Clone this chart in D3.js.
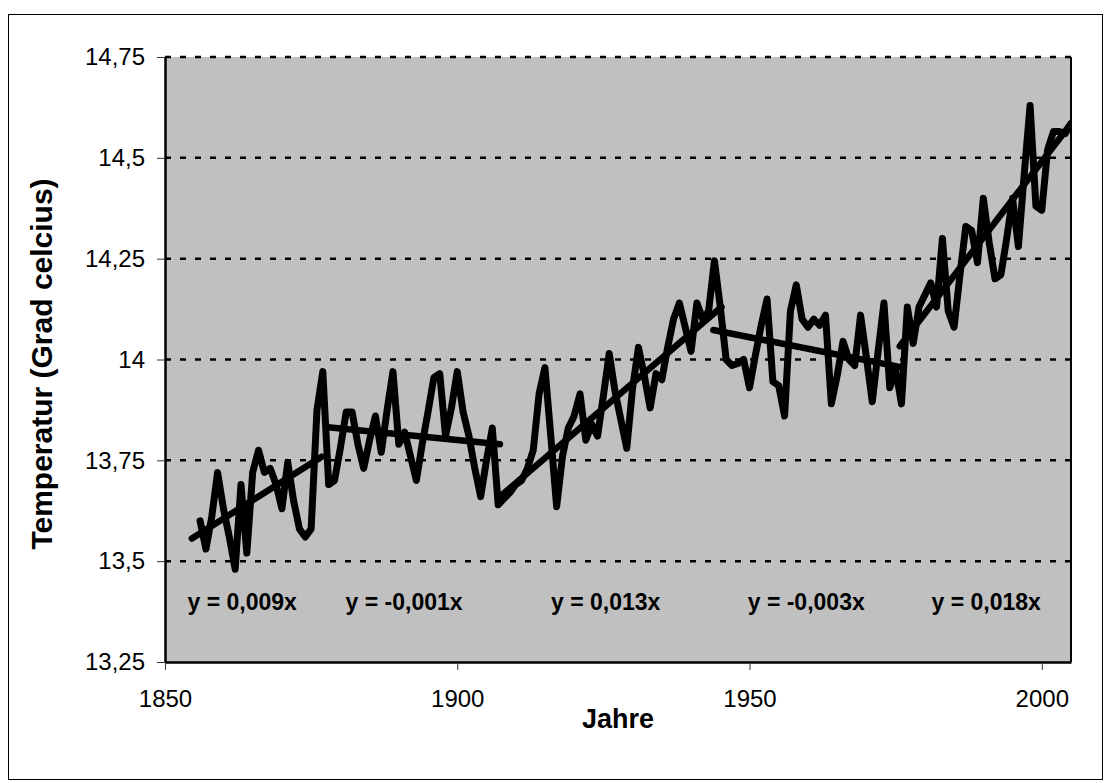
<!DOCTYPE html>
<html><head><meta charset="utf-8">
<script src="https://cdn.jsdelivr.net/npm/d3@7"></script>
<style>
body{margin:0;background:#fff}
svg{display:block}
text{font-family:"Liberation Sans",Arial,Helvetica,sans-serif;fill:#000}
</style></head>
<body><svg id="chart" width="1111" height="783"></svg>
<script>
// ---- data ----
const firstYear = 1856;
const temps = [
13.60,13.53,13.61,13.72,13.63,13.56,13.48,13.69,13.52,13.72,
13.775,13.72,13.73,13.69,13.63,13.745,13.65,13.58,13.56,13.58,
13.875,13.97,13.69,13.70,13.78,13.87,13.87,13.79,13.73,13.80,
13.86,13.77,13.875,13.97,13.79,13.82,13.76,13.70,13.79,13.87,
13.955,13.965,13.81,13.88,13.97,13.87,13.81,13.73,13.66,13.75,
13.83,13.64,13.655,13.67,13.69,13.70,13.73,13.775,13.915,13.98,
13.81,13.635,13.76,13.83,13.86,13.915,13.80,13.84,13.81,13.91,
14.015,13.92,13.85,13.78,13.93,14.03,13.96,13.88,13.965,13.95,
14.03,14.10,14.14,14.08,14.02,14.14,14.10,14.12,14.245,14.13,
14.00,13.985,13.99,14.00,13.93,14.01,14.085,14.15,13.945,13.935,
13.86,14.12,14.185,14.10,14.08,14.10,14.085,14.11,13.89,13.96,
14.045,14.00,13.985,14.11,14.005,13.895,14.02,14.14,13.93,13.975,
13.89,14.13,14.04,14.13,14.16,14.19,14.13,14.30,14.12,14.08,
14.21,14.33,14.32,14.24,14.40,14.29,14.20,14.21,14.30,14.40,
14.28,14.46,14.63,14.38,14.37,14.52,14.565,14.565,14.56,14.585
];
const years = d3.range(firstYear, firstYear + temps.length);

// linear trend segments
const trendStartYear = [1854.6, 1877.9, 1907.3, 1943.8, 1975.7];
const trendEndYear   = [1876.8, 1907.3, 1945.2, 1976.3, 2005];
const trendStartVal  = [13.556, 13.832, 13.66, 14.073, 14.033];
const trendEndVal    = [13.759, 13.79, 14.13, 13.98, 14.585];
const trendLabels    = ["y = 0,009x","y = -0,001x","y = 0,013x","y = -0,003x","y = 0,018x"];
const trendLabelYear = [1863.2, 1890.9, 1925.4, 1959.7, 1990.5];
const trendLabelVal  = 13.4;

const xTicks = [1850, 1900, 1950, 2000];
const xTickLabels = ["1850","1900","1950","2000"];
const yTicks = [13.25, 13.5, 13.75, 14, 14.25, 14.5, 14.75];
const yTickLabels = ["13,25","13,5","13,75","14","14,25","14,5","14,75"];
const xTitle = "Jahre";
const yTitle = "Temperatur (Grad celcius)";

// ---- layout ----
const L = 165, R = 1071, T = 57, B = 662;
const svg = d3.select("#chart");

svg.append("rect").attr("x",8.5).attr("y",14.5).attr("width",1094).attr("height",765)
  .attr("fill","#fff").attr("stroke","#000").attr("stroke-width",1);

const x = d3.scaleLinear().domain([1850, 2005]).range([L, R]);
const y = d3.scaleLinear().domain([13.25, 14.75]).range([B, T]);

svg.append("rect").attr("x",L).attr("y",T).attr("width",R-L).attr("height",B-T)
  .attr("fill","#c0c0c0");

// gridlines
svg.append("g").selectAll("line").data(yTicks.filter(d => d > 13.25)).join("line")
  .attr("x1",L).attr("x2",R).attr("y1",d=>y(d)).attr("y2",d=>y(d))
  .attr("stroke","#000").attr("stroke-width",2.5).attr("stroke-dasharray","6,9");

svg.append("defs").append("clipPath").attr("id","clip")
  .append("rect").attr("x",L).attr("y",T-10).attr("width",R-L).attr("height",B-T+10);

const plot = svg.append("g").attr("clip-path","url(#clip)");

const line = d3.line().x((d,i)=>x(years[i])).y(d=>y(d));
plot.append("path").datum(temps).attr("d",line)
  .attr("fill","none").attr("stroke","#000").attr("stroke-width",7)
  .attr("stroke-linejoin","round").attr("stroke-linecap","round");

plot.append("g").selectAll("line").data(trendStartYear).join("line")
  .attr("x1",(d)=>x(d)).attr("x2",(d,i)=>x(trendEndYear[i]))
  .attr("y1",(d,i)=>y(trendStartVal[i])).attr("y2",(d,i)=>y(trendEndVal[i]))
  .attr("stroke","#000").attr("stroke-width",6.5).attr("stroke-linecap","round");

// right border of plot area
svg.append("line").attr("x1",R).attr("x2",R).attr("y1",T).attr("y2",B)
  .attr("stroke","#000").attr("stroke-width",2);

// axes
const yAxis = d3.axisLeft(y).tickValues(yTicks).tickFormat((d,i)=>yTickLabels[i])
  .tickSize(8).tickPadding(12).tickSizeOuter(0);
const gy = svg.append("g").attr("transform",`translate(${L},0)`).call(yAxis);
const xAxis = d3.axisBottom(x).tickValues(xTicks).tickFormat((d,i)=>xTickLabels[i])
  .tickSize(8).tickPadding(20).tickSizeOuter(0);
const gx = svg.append("g").attr("transform",`translate(0,${B})`).call(xAxis);
[gx, gy].forEach(g => {
  g.select(".domain").attr("stroke","#000").attr("stroke-width",2.5);
  g.selectAll(".tick line").attr("stroke","#333").attr("stroke-width",1);
  g.selectAll(".tick text").attr("font-size",24).attr("fill","#000")
    .style("font-family","'Liberation Sans',Arial,sans-serif");
});

// trend labels
svg.append("g").selectAll("text").data(trendLabels).join("text")
  .attr("x",(d,i)=>x(trendLabelYear[i])).attr("y",y(trendLabelVal))
  .attr("dy","0.35em").attr("text-anchor","middle")
  .attr("font-size",23).attr("font-weight","bold").text(d=>d);

// titles
svg.append("text").attr("x",(L+R)/2).attr("y",728).attr("text-anchor","middle")
  .attr("font-size",27).attr("font-weight","bold").text(xTitle);
svg.append("text").attr("transform",`translate(52,364) rotate(-90)`)
  .attr("text-anchor","middle").attr("font-size",30).attr("font-weight","bold").text(yTitle);
</script></body></html>
